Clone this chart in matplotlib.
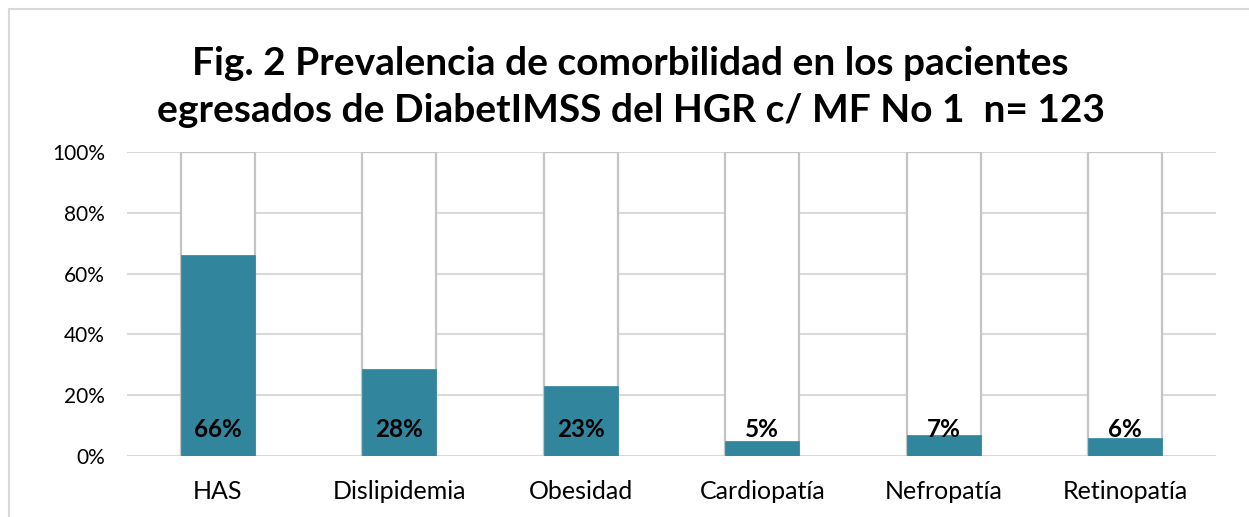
import matplotlib
matplotlib.use("Agg")
import matplotlib.pyplot as plt
from matplotlib.patches import Rectangle
from matplotlib.ticker import PercentFormatter

categories = ["HAS", "Dislipidemia", "Obesidad", "Cardiopatía", "Nefropatía", "Retinopatía"]
values = [0.66, 0.285, 0.23, 0.05, 0.068, 0.06]
labels = ["66%", "28%", "23%", "5%", "7%", "6%"]

plt.rcParams["font.family"] = ["Lato", "DejaVu Sans"]

fig = plt.figure(figsize=(12.49, 5.17), dpi=100)
ax = fig.add_axes([0.1017, 0.118, 0.8719, 0.588])

# chart border (runs off right and bottom)
fig.patches.append(Rectangle((9 / 1249, -0.1), 1.2, 1.1 - 9 / 517, transform=fig.transFigure,
                             fill=False, edgecolor="#d9d9d9", linewidth=1.5))

x = range(len(categories))
ax.bar(x, [1] * len(categories), width=0.41, color="white", edgecolor="#c4c4c4", linewidth=1.6, zorder=2)
ax.bar(x, values, width=0.41, color="#31859c", edgecolor="#31859c", linewidth=0.5, zorder=3)
for i, lab in enumerate(labels):
    ax.text(i, 0.062, lab, ha="center", va="baseline", fontsize=17.5, fontweight="bold", color="black", zorder=4)

ax.set_xlim(-0.5, len(categories) - 0.5)
ax.set_ylim(0, 1)
ax.set_yticks([0, 0.2, 0.4, 0.6, 0.8, 1.0])
ax.yaxis.set_major_formatter(PercentFormatter(1.0, decimals=0))
ax.set_xticks(list(x))
ax.set_xticklabels(categories)
ax.tick_params(axis="both", length=0, colors="black")
ax.tick_params(axis="y", pad=16, labelsize=15)
ax.tick_params(axis="x", pad=17, labelsize=18)
ax.grid(axis="y", color="#d9d9d9", linewidth=1.5, zorder=0)
ax.set_axisbelow(True)
for s in ax.spines.values():
    s.set_visible(False)

fig.text(0.505, 0.832, "Fig. 2 Prevalencia de comorbilidad en los pacientes\negresados de DiabetIMSS del HGR c/ MF No 1  n= 123",
         ha="center", va="center", fontsize=28, fontweight="bold", linespacing=1.4)

fig.savefig("out.png", dpi=100)
